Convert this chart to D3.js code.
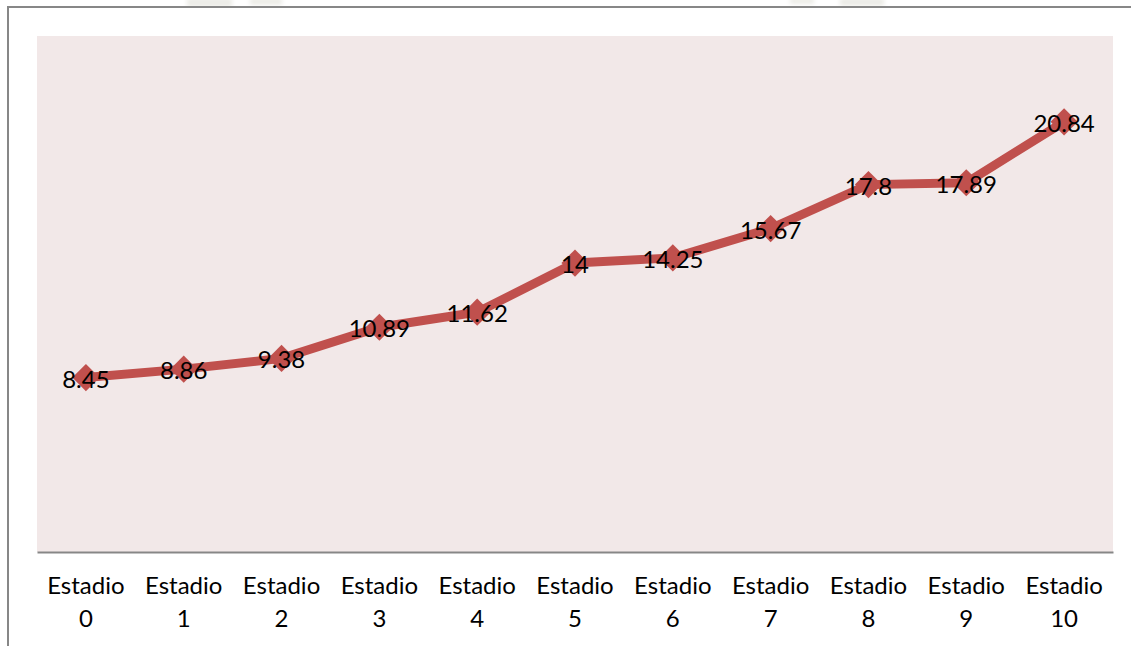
<!DOCTYPE html>
<html>
<head>
<meta charset="utf-8">
<script src="https://cdn.jsdelivr.net/npm/d3@7"></script>
<style>
  html, body { margin: 0; padding: 0; background: #ffffff; }
  svg { display: block; }
  text { font-family: Lato, "Open Sans", sans-serif; fill: #000; }
</style>
</head>
<body>
<svg id="chart" width="1131" height="646"></svg>
<script>
// Stages and measured values
const categories = ["Estadio 0", "Estadio 1", "Estadio 2", "Estadio 3", "Estadio 4", "Estadio 5",
                    "Estadio 6", "Estadio 7", "Estadio 8", "Estadio 9", "Estadio 10"];
const values = [8.45, 8.86, 9.38, 10.89, 11.62, 14, 14.25, 15.67, 17.8, 17.89, 20.84];
const valueLabels = ["8.45", "8.86", "9.38", "10.89", "11.62", "14", "14.25", "15.67", "17.8", "17.89", "20.84"];
const yDomain = [0, 25];

const svg = d3.select("#chart");
const W = 1131, H = 646;
const plot = { left: 37, right: 1113, top: 36, bottom: 552 };

// faint smudges along the top edge
const defs = svg.append("defs");
defs.append("filter").attr("id", "soft").append("feGaussianBlur").attr("stdDeviation", 2);
const smudges = [[187, 45, 7], [250, 32, 5], [790, 24, 4], [840, 44, 6]];
svg.append("g").attr("filter", "url(#soft)")
  .selectAll("rect").data(smudges).join("rect")
  .attr("x", d => d[0]).attr("y", -2).attr("width", d => d[1]).attr("height", d => d[2] + 2)
  .attr("fill", "#ececE7");

// chart frame (top and left edges)
svg.append("path")
  .attr("d", `M8,${H} V7 H${W}`)
  .attr("fill", "none").attr("stroke", "#878787").attr("stroke-width", 2);

// plot background
svg.append("rect")
  .attr("x", plot.left).attr("y", plot.top)
  .attr("width", plot.right - plot.left).attr("height", plot.bottom - plot.top)
  .attr("fill", "#f2e8e8");

const x = d3.scaleBand().domain(categories).range([plot.left, plot.right]);
const y = d3.scaleLinear().domain(yDomain).range([plot.bottom, plot.top]);
const cx = c => x(c) + x.bandwidth() / 2;

// category axis
const xAxis = svg.append("g")
  .attr("transform", `translate(0,${plot.bottom})`)
  .call(d3.axisBottom(x).tickSize(0).tickFormat(""));
xAxis.select(".domain").attr("stroke", "#878787").attr("stroke-width", 2);
xAxis.selectAll(".tick").each(function(d) {
  const parts = d.split(" ");
  const t = d3.select(this).append("text")
    .attr("text-anchor", "middle")
    .attr("font-size", 24)
    .style("fill", "#000");
  t.append("tspan").attr("x", 0).attr("y", 42).text(parts[0]);
  t.append("tspan").attr("x", 0).attr("y", 75).text(parts[1]);
});

// series line
const pts = categories.map((c, i) => ({ c, v: values[i], label: valueLabels[i] }));
svg.append("path")
  .datum(pts)
  .attr("d", d3.line().x(d => cx(d.c)).y(d => y(d.v)))
  .attr("fill", "none")
  .attr("stroke", "#c0504d")
  .attr("stroke-width", 9)
  .attr("stroke-linejoin", "miter");

// diamond markers
const diamond = d3.symbol().type(d3.symbolSquare).size(370);
svg.append("g").selectAll("path").data(pts).join("path")
  .attr("d", diamond())
  .attr("transform", d => `translate(${cx(d.c)},${y(d.v)}) rotate(45)`)
  .attr("fill", "#c0504d");

// value labels
svg.append("g").selectAll("text").data(pts).join("text")
  .attr("x", d => cx(d.c))
  .attr("y", d => y(d.v) + 10)
  .attr("text-anchor", "middle")
  .attr("font-size", 24)
  .text(d => d.label);
</script>
</body>
</html>
